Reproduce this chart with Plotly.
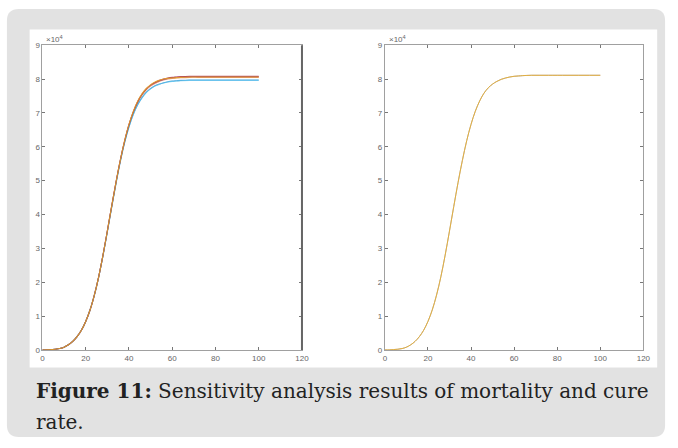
import plotly.graph_objects as go

W, H = 678, 448

# ---------------- data (values in units of 10^4) ----------------
days = [0, 2, 4, 6, 8, 10, 12, 14, 16, 18, 20, 22, 24, 26, 28, 30, 32, 34, 36,
        38, 40, 42, 44, 46, 48, 50, 52, 54, 56, 58, 60, 62, 64,
        68, 72, 76, 80, 85, 90, 95, 100]

left_blue = [0.00, 0.00, 0.01, 0.02, 0.04, 0.08, 0.15, 0.25, 0.39, 0.58, 0.84, 1.18, 1.62, 2.16, 2.79, 3.49, 4.21, 4.92, 5.57,
             6.13, 6.59, 6.96, 7.24, 7.45, 7.61, 7.72, 7.80, 7.85, 7.89, 7.92, 7.94, 7.95, 7.96,
             7.97, 7.97, 7.97, 7.97, 7.97, 7.97, 7.97, 7.97]
left_orange = [0.00, 0.00, 0.01, 0.02, 0.04, 0.08, 0.15, 0.25, 0.39, 0.58, 0.84, 1.18, 1.62, 2.16, 2.80, 3.51, 4.24, 4.95, 5.60,
               6.16, 6.63, 7.01, 7.30, 7.52, 7.68, 7.79, 7.87, 7.93, 7.97, 8.00, 8.02, 8.03, 8.04,
               8.05, 8.05, 8.05, 8.05, 8.05, 8.05, 8.05, 8.05]
left_purple = [0.00, 0.00, 0.01, 0.02, 0.04, 0.08, 0.15, 0.25, 0.39, 0.58, 0.84, 1.18, 1.62, 2.16, 2.80, 3.51, 4.24, 4.95, 5.60,
               6.17, 6.65, 7.03, 7.33, 7.55, 7.71, 7.82, 7.90, 7.95, 7.99, 8.02, 8.04, 8.05, 8.06,
               8.07, 8.07, 8.07, 8.07, 8.07, 8.07, 8.07, 8.07]
left_lightblue = [0.00, 0.00, 0.01, 0.02, 0.04, 0.08, 0.15, 0.25, 0.39, 0.58, 0.84, 1.18, 1.61, 2.15, 2.78, 3.48, 4.20, 4.90, 5.55,
                  6.12, 6.58, 6.95, 7.23, 7.44, 7.60, 7.71, 7.79, 7.84, 7.88, 7.91, 7.93, 7.94, 7.95,
                  7.96, 7.96, 7.96, 7.96, 7.96, 7.96, 7.96, 7.96]
left_darkred = [0.00, 0.00, 0.01, 0.02, 0.04, 0.08, 0.15, 0.25, 0.39, 0.58, 0.84, 1.18, 1.62, 2.16, 2.80, 3.51, 4.24, 4.95, 5.60,
                6.17, 6.65, 7.03, 7.33, 7.55, 7.71, 7.82, 7.90, 7.96, 8.00, 8.03, 8.05, 8.06, 8.07,
                8.08, 8.08, 8.08, 8.08, 8.08, 8.08, 8.08, 8.08]
left_yellow = [0.00, 0.00, 0.01, 0.02, 0.04, 0.08, 0.15, 0.25, 0.39, 0.58, 0.84, 1.18, 1.62, 2.16, 2.80, 3.51, 4.24, 4.95, 5.60,
               6.18, 6.66, 7.04, 7.34, 7.56, 7.72, 7.83, 7.91, 7.96, 8.00, 8.02, 8.03, 8.04, 8.05,
               8.06, 8.06, 8.06, 8.06, 8.06, 8.06, 8.06, 8.06]

right_blue = [0.00, 0.00, 0.01, 0.02, 0.04, 0.08, 0.15, 0.25, 0.39, 0.58, 0.84, 1.18, 1.62, 2.16, 2.80, 3.51, 4.24, 4.95, 5.60,
              6.18, 6.66, 7.05, 7.35, 7.58, 7.74, 7.85, 7.93, 7.99, 8.03, 8.06, 8.08, 8.09, 8.10,
              8.11, 8.11, 8.11, 8.11, 8.11, 8.11, 8.11, 8.11]
right_orange = [0.00, 0.00, 0.01, 0.02, 0.04, 0.08, 0.15, 0.25, 0.39, 0.58, 0.84, 1.18, 1.62, 2.16, 2.80, 3.51, 4.24, 4.95, 5.60,
                6.18, 6.66, 7.05, 7.35, 7.58, 7.74, 7.85, 7.93, 7.99, 8.03, 8.06, 8.08, 8.09, 8.10,
                8.11, 8.11, 8.11, 8.11, 8.11, 8.11, 8.11, 8.11]
right_yellow = [0.00, 0.00, 0.01, 0.02, 0.04, 0.08, 0.15, 0.25, 0.39, 0.58, 0.84, 1.18, 1.62, 2.16, 2.80, 3.51, 4.24, 4.95, 5.60,
                6.18, 6.66, 7.05, 7.35, 7.58, 7.74, 7.85, 7.93, 7.99, 8.03, 8.06, 8.08, 8.09, 8.10,
                8.11, 8.11, 8.11, 8.11, 8.11, 8.11, 8.11, 8.11]

x_ticks = [0, 20, 40, 60, 80, 100, 120]
y_ticks = [0, 1, 2, 3, 4, 5, 6, 7, 8, 9]
caption_bold = "Figure 11:"
caption_rest = " Sensitivity analysis results of mortality and cure"
caption_line2 = "rate."

# ---------------- helpers ----------------
def X(px):
    return px / W

def Y(py):
    return 1 - py / H

fig = go.Figure()

left_series = [
    (left_blue, "#0072BD", 0.6), (left_orange, "#D95319", 0.6), (left_purple, "#7E2F8E", 0.6),
    (left_lightblue, "#4DBEEE", 0.7), (left_darkred, "#A2142F", 0.7), (left_yellow, "#EDB120", 0.75),
]
for ys, col, op in left_series:
    fig.add_trace(go.Scatter(x=days, y=ys, mode="lines", line=dict(color=col, width=1.1, shape="spline"),
                             opacity=op, xaxis="x", yaxis="y", showlegend=False, hoverinfo="skip"))

right_series = [(right_blue, "#0072BD", 0.35), (right_orange, "#D95319", 0.35), (right_yellow, "#EDB120", 0.85)]
for ys, col, op in right_series:
    fig.add_trace(go.Scatter(x=days, y=ys, mode="lines", line=dict(color=col, width=0.9, shape="spline"),
                             opacity=op, xaxis="x2", yaxis="y2", showlegend=False, hoverinfo="skip"))

axis_common = dict(
    showgrid=False, zeroline=False, showline=True, mirror="ticks",
    ticks="inside", ticklen=3, tickwidth=1, tickcolor="#777",
    linecolor="#a0a0a0", linewidth=1,
    tickfont=dict(family="Liberation Sans", size=8, color="#666"),
)

fig.update_layout(
    width=W, height=H,
    margin=dict(l=0, r=0, t=0, b=0),
    paper_bgcolor="white", plot_bgcolor="rgba(0,0,0,0)",
    xaxis=dict(domain=[X(41), X(304)], range=[0, 120], tickvals=x_ticks, anchor="y", **axis_common),
    yaxis=dict(domain=[Y(353), Y(42)], range=[0, 9], tickvals=y_ticks, anchor="x", **axis_common),
    xaxis2=dict(domain=[X(388), X(650)], range=[0, 120], tickvals=x_ticks, anchor="y2", **axis_common),
    yaxis2=dict(domain=[Y(353), Y(42)], range=[0, 9], tickvals=y_ticks, anchor="x2", **axis_common),
)

# grey rounded background box
x0, x1, y0, y1, r = 5, 672, 5, 442, 12
path = (f"M {X(x0 + r)},{Y(y0)} L {X(x1 - r)},{Y(y0)} Q {X(x1)},{Y(y0)} {X(x1)},{Y(y0 + r)} "
        f"L {X(x1)},{Y(y1 - r)} Q {X(x1)},{Y(y1)} {X(x1 - r)},{Y(y1)} "
        f"L {X(x0 + r)},{Y(y1)} Q {X(x0)},{Y(y1)} {X(x0)},{Y(y1 - r)} "
        f"L {X(x0)},{Y(y0 + r)} Q {X(x0)},{Y(y0)} {X(x0 + r)},{Y(y0)} Z")
fig.add_shape(type="path", path=path, xref="paper", yref="paper",
              fillcolor="#e2e2e2", line=dict(width=0), layer="below")
# white image area
fig.add_shape(type="rect", xref="paper", yref="paper", x0=X(28), x1=X(664), y0=Y(371), y1=Y(26),
              fillcolor="white", line=dict(width=0), layer="below")
# darker right border of the left panel
fig.add_shape(type="line", xref="paper", yref="paper", x0=X(304), x1=X(304), y0=Y(353), y1=Y(42),
              line=dict(color="#666", width=2))

# x10^4 exponent labels
for xa in (43, 390):
    fig.add_annotation(x=X(xa), y=Y(36), xref="paper", yref="paper", xanchor="left", yanchor="middle",
                       text="×10<sup>4</sup>", showarrow=False,
                       font=dict(family="Liberation Sans", size=8, color="#666"))

# caption
fig.add_annotation(x=X(32), y=Y(409), xref="paper", yref="paper", xanchor="left", yanchor="bottom",
                   text=f"<b>{caption_bold}</b>{caption_rest}", showarrow=False,
                   font=dict(family="DejaVu Serif", size=20, color="#222"))
fig.add_annotation(x=X(32), y=Y(441), xref="paper", yref="paper", xanchor="left", yanchor="bottom",
                   text=caption_line2, showarrow=False,
                   font=dict(family="DejaVu Serif", size=20, color="#222"))

fig.write_html("out.html", config={"displayModeBar": False},
               post_script="document.body.style.margin='0';document.body.style.overflow='hidden';")
